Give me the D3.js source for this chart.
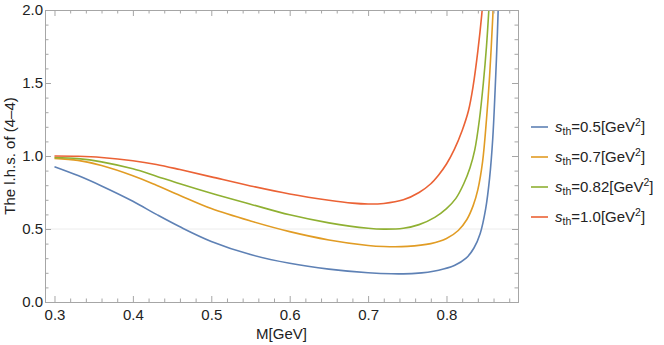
<!DOCTYPE html>
<html>
<head>
<meta charset="utf-8">
<script src="https://cdn.jsdelivr.net/npm/d3@7"></script>
<style>
  body { margin: 0; background: #fff; }
  text { font-family: "Liberation Sans", Arial, sans-serif; }
</style>
</head>
<body>
<div id="chart"></div>
<script>
// data: [M, value]
const sth_05 = [[0.30,0.927],[0.33,0.866],[0.36,0.795],[0.40,0.69],[0.43,0.60],[0.46,0.515],[0.50,0.415],
  [0.55,0.325],[0.60,0.265],[0.65,0.225],[0.70,0.20],[0.73,0.193],[0.76,0.196],[0.79,0.218],[0.81,0.25],
  [0.825,0.30],[0.835,0.37],[0.843,0.47],[0.85,0.64],[0.855,0.85],[0.859,1.12],[0.862,1.45],[0.865,1.85],[0.867,2.2]];
const sth_07 = [[0.30,0.984],[0.33,0.97],[0.36,0.935],[0.40,0.865],[0.43,0.80],[0.46,0.73],[0.50,0.64],
  [0.55,0.555],[0.60,0.482],[0.65,0.425],[0.70,0.387],[0.72,0.38],[0.75,0.381],[0.78,0.40],[0.80,0.435],
  [0.815,0.49],[0.826,0.565],[0.834,0.66],[0.84,0.77],[0.846,0.96],[0.851,1.25],[0.855,1.55],[0.859,1.95],[0.861,2.2]];
const sth_082 = [[0.30,0.99],[0.33,0.982],[0.36,0.96],[0.40,0.912],[0.43,0.862],[0.46,0.81],[0.50,0.745],
  [0.55,0.67],[0.60,0.597],[0.65,0.542],[0.70,0.505],[0.72,0.499],[0.745,0.505],[0.765,0.53],[0.785,0.58],
  [0.80,0.64],[0.812,0.71],[0.822,0.81],[0.83,0.92],[0.836,1.04],[0.842,1.25],[0.847,1.5],[0.851,1.75],[0.854,2.0],[0.856,2.2]];
const sth_10 = [[0.30,1.0],[0.33,0.998],[0.36,0.99],[0.40,0.968],[0.43,0.942],[0.46,0.907],[0.50,0.857],
  [0.55,0.795],[0.60,0.74],[0.65,0.697],[0.68,0.677],[0.70,0.671],[0.72,0.675],[0.745,0.70],[0.765,0.75],
  [0.78,0.81],[0.79,0.87],[0.80,0.945],[0.81,1.045],[0.82,1.175],[0.828,1.31],[0.834,1.48],[0.84,1.72],[0.845,1.97],[0.847,2.1]];

const series = [sth_05, sth_07, sth_082, sth_10];
const sthLabels = ["0.5", "0.7", "0.82", "1.0"];
const colors = ["#5e81b5", "#e19c24", "#8fb032", "#eb6235"];
const xTicks = [0.3, 0.4, 0.5, 0.6, 0.7, 0.8];
const yTicks = [0.0, 0.5, 1.0, 1.5, 2.0];

const W = 664, H = 345;
const plot = {left: 45, right: 518, top: 10, bottom: 302};
const fontSize = 15;

const svg = d3.select('#chart').append('svg')
  .attr('width', W).attr('height', H);

const x = d3.scaleLinear().domain([0.2879, 0.8912]).range([plot.left, plot.right]);
const y = d3.scaleLinear().domain([0, 2]).range([plot.bottom, plot.top]);

// minor ticks
const xMinor = d3.range(0.30, 0.891, 0.02).filter(v => Math.abs(Math.round(v*10) - v*10) > 1e-6);
const yMinor = d3.range(0.1, 2.0, 0.1).filter(v => Math.abs(Math.round(v*2) - v*2) > 1e-6);

// light grid line at 0.5
svg.append('line')
  .attr('x1', plot.left).attr('x2', plot.right)
  .attr('y1', y(0.5)).attr('y2', y(0.5))
  .attr('stroke', '#ececec').attr('stroke-width', 1);

// curves
svg.append('clipPath').attr('id', 'clip')
  .append('rect')
  .attr('x', plot.left).attr('y', plot.top)
  .attr('width', plot.right - plot.left).attr('height', plot.bottom - plot.top);

const line = d3.line()
  .x(d => x(d[0]))
  .y(d => y(d[1]))
  .curve(d3.curveCatmullRom.alpha(0.5));

svg.append('g').attr('clip-path', 'url(#clip)')
  .selectAll('path')
  .data(series)
  .join('path')
  .attr('d', line)
  .attr('fill', 'none')
  .attr('stroke', (d, i) => colors[i])
  .attr('stroke-width', 1.6);

// frame with inward ticks
const frameColor = '#a6a6a6';
const majorLen = 6, minorLen = 3.5;

function frameAxis(axis, translate) {
  const g = svg.append('g').attr('transform', translate).call(axis);
  g.select('.domain').attr('stroke', frameColor);
  g.selectAll('.tick line').attr('stroke', frameColor);
  return g;
}

const fmt = d3.format('.1f');

// bottom
frameAxis(d3.axisBottom(x).tickValues(xMinor).tickSize(-minorLen).tickFormat(''), `translate(0,${plot.bottom})`);
const bx = frameAxis(d3.axisBottom(x).tickValues(xTicks).tickSize(-majorLen).tickPadding(7).tickFormat(fmt), `translate(0,${plot.bottom})`);
bx.selectAll('text').attr('font-size', fontSize).attr('fill', '#222').style('font-family', '"Liberation Sans", Arial, sans-serif');
// top
frameAxis(d3.axisTop(x).tickValues(xMinor).tickSize(-minorLen).tickFormat(''), `translate(0,${plot.top})`);
frameAxis(d3.axisTop(x).tickValues(xTicks).tickSize(-majorLen).tickFormat(''), `translate(0,${plot.top})`);
// left
frameAxis(d3.axisLeft(y).tickValues(yMinor).tickSize(-minorLen).tickFormat(''), `translate(${plot.left},0)`);
const ly = frameAxis(d3.axisLeft(y).tickValues(yTicks).tickSize(-majorLen).tickPadding(2).tickFormat(fmt), `translate(${plot.left},0)`);
ly.selectAll('text').attr('font-size', fontSize).attr('fill', '#222').style('font-family', '"Liberation Sans", Arial, sans-serif');
// right
frameAxis(d3.axisRight(y).tickValues(yMinor).tickSize(-minorLen).tickFormat(''), `translate(${plot.right},0)`);
frameAxis(d3.axisRight(y).tickValues(yTicks).tickSize(-majorLen).tickFormat(''), `translate(${plot.right},0)`);

// axis titles
svg.append('text')
  .attr('x', (plot.left + plot.right) / 2).attr('y', 339)
  .attr('text-anchor', 'middle').attr('font-size', fontSize).attr('fill', '#222')
  .text('M[GeV]');

svg.append('text')
  .attr('transform', `translate(15,${(plot.top + plot.bottom) / 2}) rotate(-90)`)
  .attr('text-anchor', 'middle').attr('font-size', fontSize).attr('fill', '#222')
  .text('The l.h.s. of (4\u20134)');

// legend
const legend = svg.append('g');
const legendY = [127, 157, 187, 217];
sthLabels.forEach((lab, i) => {
  const ly0 = legendY[i];
  legend.append('line')
    .attr('x1', 531).attr('x2', 548)
    .attr('y1', ly0).attr('y2', ly0)
    .attr('stroke', colors[i]).attr('stroke-width', 1.6);
  const t = legend.append('text')
    .attr('x', 555).attr('y', ly0 + 5)
    .attr('font-size', fontSize).attr('fill', '#222');
  t.append('tspan').attr('font-style', 'italic').text('s');
  t.append('tspan').attr('font-size', 10.5).attr('dy', 3).text('th');
  t.append('tspan').attr('dy', -3).text('=' + lab + '[GeV');
  t.append('tspan').attr('font-size', 10.5).attr('dy', -6).text('2');
  t.append('tspan').attr('dy', 6).text(']');
});
</script>
</body>
</html>
